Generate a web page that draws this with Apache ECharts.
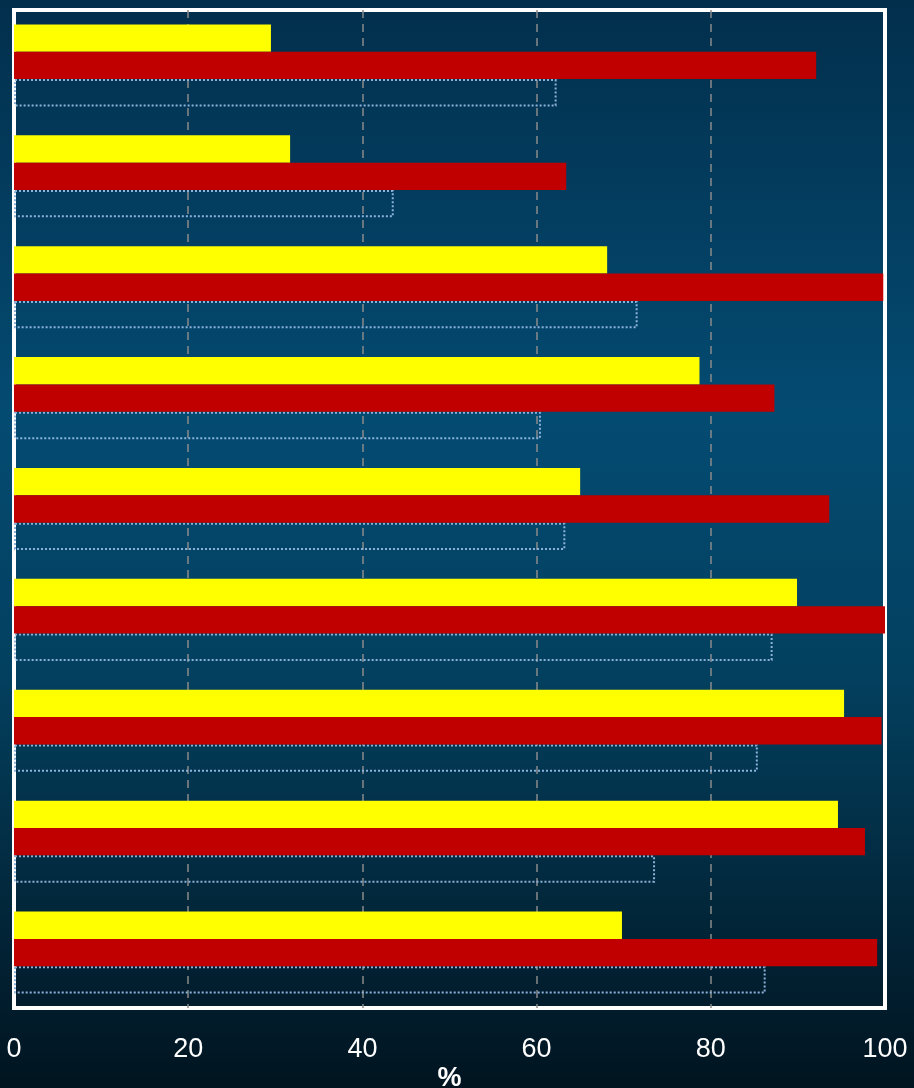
<!DOCTYPE html>
<html>
<head>
<meta charset="utf-8">
<script src="https://cdn.jsdelivr.net/npm/echarts@6/dist/echarts.min.js"></script>
<style>
  html, body { margin: 0; padding: 0; background: #011a28; }
  #chart { width: 914px; height: 1088px; }
</style>
</head>
<body>
<div id="chart"></div>
<script>
// Nine groups, top to bottom
const categories = ['1', '2', '3', '4', '5', '6', '7', '8', '9'];
// Percent values per group
const yellowValues = [29.5, 31.7, 68.1, 78.7, 65.0, 89.9, 95.3, 94.6, 69.8];
const redValues = [92.1, 63.4, 99.8, 87.3, 93.6, 100, 99.6, 97.7, 99.1];
const outlineValues = [62.3, 43.6, 71.6, 60.5, 63.3, 87.1, 85.4, 73.6, 86.3];
const xTicks = [0, 20, 40, 60, 80, 100];

const chart = echarts.init(document.getElementById('chart'), null, { renderer: 'canvas' });

chart.setOption({
  animation: false,
  backgroundColor: {
    type: 'linear', x: 0, y: 0, x2: 0, y2: 1,
    colorStops: [
      { offset: 0, color: '#022f4c' },
      { offset: 0.38, color: '#044b72' },
      { offset: 0.62, color: '#03405f' },
      { offset: 0.85, color: '#022538' },
      { offset: 1, color: '#011420' }
    ]
  },
  grid: {
    left: 14, right: 29, top: 10, bottom: 80,
    outerBoundsMode: 'none',
    containLabel: false,
    show: true,
    borderColor: '#ffffff',
    borderWidth: 4,
    backgroundColor: 'transparent'
  },
  xAxis: {
    type: 'value',
    min: xTicks[0],
    max: xTicks[xTicks.length - 1],
    interval: 20,
    name: '%',
    nameLocation: 'middle',
    nameGap: 57,
    nameMoveOverlap: false,
    nameTextStyle: { color: '#ffffff', fontSize: 27, fontWeight: 'bold', fontFamily: 'Liberation Sans, Arial, sans-serif' },
    axisLine: { show: false },
    axisTick: { show: false },
    axisLabel: {
      color: '#ffffff', fontSize: 27, margin: 28,
      fontFamily: 'Liberation Sans, Arial, sans-serif'
    },
    splitLine: {
      show: true,
      showMinLine: false,
      showMaxLine: false,
      lineStyle: { color: '#8a8a8a', width: 1.5, type: [8, 6] }
    }
  },
  yAxis: {
    type: 'category',
    data: categories,
    inverse: true,
    axisLine: { show: false },
    axisTick: { show: false },
    axisLabel: { show: false },
    splitLine: { show: false }
  },
  series: [
    {
      type: 'bar', data: yellowValues, barGap: '0%', barCategoryGap: '26%', z: 3,
      itemStyle: { color: '#ffff00' }
    },
    {
      type: 'bar', data: redValues, barGap: '0%', barCategoryGap: '26%', z: 3,
      itemStyle: { color: '#c00000' }
    },
    {
      type: 'bar', data: outlineValues, barGap: '0%', barCategoryGap: '26%', z: 2,
      itemStyle: {
        color: 'rgba(0,0,0,0)',
        borderColor: '#8cb2da',
        borderWidth: 2,
        borderType: [2, 2]
      }
    }
  ]
});
</script>
</body>
</html>
